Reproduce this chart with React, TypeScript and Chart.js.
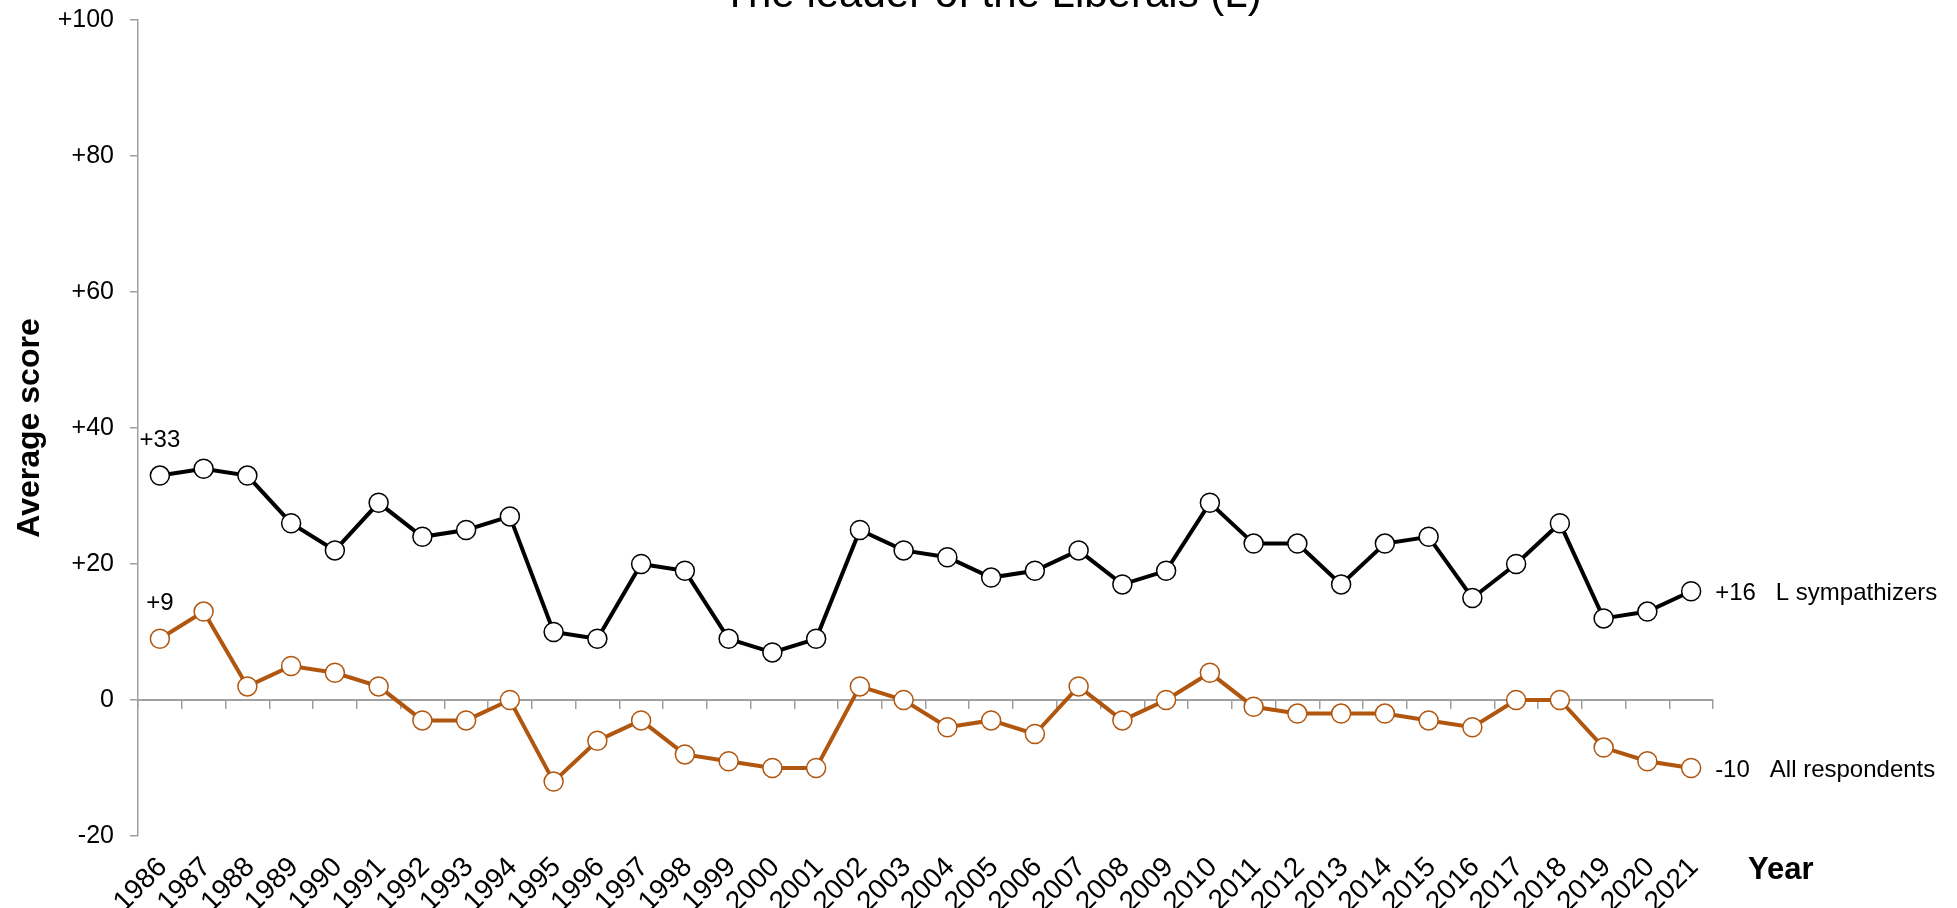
import React, { useEffect, useRef } from "react";
import { Chart, registerables } from "chart.js";

Chart.register(...registerables);

const years: string[] = [
  "1986", "1987", "1988", "1989", "1990", "1991", "1992", "1993", "1994",
  "1995", "1996", "1997", "1998", "1999", "2000", "2001", "2002", "2003",
  "2004", "2005", "2006", "2007", "2008", "2009", "2010", "2011", "2012",
  "2013", "2014", "2015", "2016", "2017", "2018", "2019", "2020", "2021",
];

const lSympathizers: number[] = [
  33, 34, 33, 26, 22, 29, 24, 25, 27, 10, 9, 20, 19, 9, 7, 9, 25, 22,
  21, 18, 19, 22, 17, 19, 29, 23, 23, 17, 23, 24, 15, 20, 26, 12, 13, 16,
];

const allRespondents: number[] = [
  9, 13, 2, 5, 4, 2, -3, -3, 0, -12, -6, -3, -8, -9, -10, -10, 2, 0,
  -4, -3, -5, 2, -3, 0, 4, -1, -2, -2, -2, -3, -4, 0, 0, -7, -9, -10,
];

const seriesNames: string[] = ["L sympathizers", "All respondents"];
const yTicks: number[] = [-20, 0, 20, 40, 60, 80, 100];
const titleText = "The leader of the Liberals (L)";
const yTitle = "Average score";
const xTitle = "Year";

const ORANGE = "#B0560F";
const AXIS_GREY = "#a0a0a0";
const FONT = "Arial, 'Liberation Sans', sans-serif";

const fmt = (v: number) => (v > 0 ? "+" + v : String(v));

const annotationPlugin = {
  id: "annotations",
  afterDatasetsDraw(chart: any) {
    const { ctx, chartArea } = chart;
    ctx.save();
    ctx.fillStyle = "#000";
    // title (partially cut at top)
    ctx.font = `42px ${FONT}`;
    ctx.textAlign = "center";
    ctx.textBaseline = "alphabetic";
    ctx.fillText(titleText, 992, 7);

    // first-point labels and end labels
    ctx.font = `24px ${FONT}`;
    chart.data.datasets.forEach((ds: any, di: number) => {
      const meta = chart.getDatasetMeta(di);
      const first = meta.data[0];
      const last = meta.data[meta.data.length - 1];
      const v0 = ds.data[0];
      const vN = ds.data[ds.data.length - 1];
      ctx.textAlign = "center";
      ctx.textBaseline = "middle";
      ctx.fillText(fmt(v0), first.x, first.y - 35);
      ctx.textAlign = "left";
      ctx.fillText(fmt(vN) + "   " + seriesNames[di], last.x + 24, last.y + 2);
    });

    // x axis title
    ctx.font = `bold 31px ${FONT}`;
    ctx.textAlign = "left";
    ctx.textBaseline = "middle";
    ctx.fillText(xTitle, chartArea.right + 35, 870);
    ctx.restore();
  },
};

export default function App() {
  const canvasRef = useRef<HTMLCanvasElement | null>(null);

  useEffect(() => {
    document.body.style.margin = "0";
    document.body.style.overflow = "hidden";
    const canvas = canvasRef.current;
    if (!canvas) return;
    const chart = new Chart(canvas, {
      type: "line",
      data: {
        labels: years,
        datasets: [
          {
            label: seriesNames[0],
            data: lSympathizers,
            borderColor: "#000",
            borderWidth: 4,
            pointRadius: 9.5,
            pointHoverRadius: 9.5,
            pointBackgroundColor: "#fff",
            pointBorderColor: "#000",
            pointBorderWidth: 1.5,
            tension: 0,
          },
          {
            label: seriesNames[1],
            data: allRespondents,
            borderColor: ORANGE,
            borderWidth: 4,
            pointRadius: 9.5,
            pointHoverRadius: 9.5,
            pointBackgroundColor: "#fff",
            pointBorderColor: ORANGE,
            pointBorderWidth: 1.5,
            tension: 0,
          },
        ],
      },
      options: {
        responsive: false,
        animation: false,
        devicePixelRatio: 1,
        layout: { padding: { left: 0, right: 244, top: 20, bottom: 0 } },
        plugins: {
          legend: { display: false },
          tooltip: { enabled: false },
          title: { display: false },
        },
        scales: {
          x: {
            type: "category",
            position: "bottom",
            offset: true,
            grid: { display: false, drawTicks: false },
            border: { display: false },
            ticks: {
              autoSkip: false,
              maxRotation: 45,
              minRotation: 45,
              padding: 15,
              labelOffset: 3,
              color: "#000",
              font: { family: FONT, size: 28 },
            },
            afterFit: (scale: any) => {
              scale.height = 72;
            },
          },
          x2: {
            type: "category",
            axis: "x",
            position: { y: 0 },
            offset: true,
            grid: {
              display: true,
              drawOnChartArea: false,
              drawTicks: true,
              tickLength: 8,
              offset: true,
              color: AXIS_GREY,
              lineWidth: 1.5,
            },
            border: { display: true, color: AXIS_GREY, width: 2 },
            ticks: { display: false },
          },
          y: {
            min: -20,
            max: 100,
            afterBuildTicks: (scale: any) => {
              scale.ticks = yTicks.map((v) => ({ value: v }));
            },
            grid: {
              display: true,
              drawOnChartArea: false,
              drawTicks: true,
              tickLength: 8,
              color: AXIS_GREY,
              lineWidth: 1.5,
            },
            border: { display: true, color: AXIS_GREY, width: 1.5 },
            ticks: {
              padding: 16,
              color: "#000",
              font: { family: FONT, size: 25 },
              callback: (v: any) => fmt(Number(v)),
            },
            title: {
              display: true,
              text: yTitle,
              color: "#000",
              font: { family: FONT, size: 32, weight: "bold" },
              padding: { top: 11, bottom: 0 },
            },
            afterFit: (scale: any) => {
              scale.width = 138;
              scale.paddingTop = 0;
              scale.paddingBottom = 0;
            },
          },
        },
      },
      plugins: [annotationPlugin],
    });
    return () => chart.destroy();
  }, []);

  return (
    <div style={{ width: 1957, height: 908 }}>
      <canvas ref={canvasRef} width={1957} height={908} style={{ display: "block" }} />
    </div>
  );
}
